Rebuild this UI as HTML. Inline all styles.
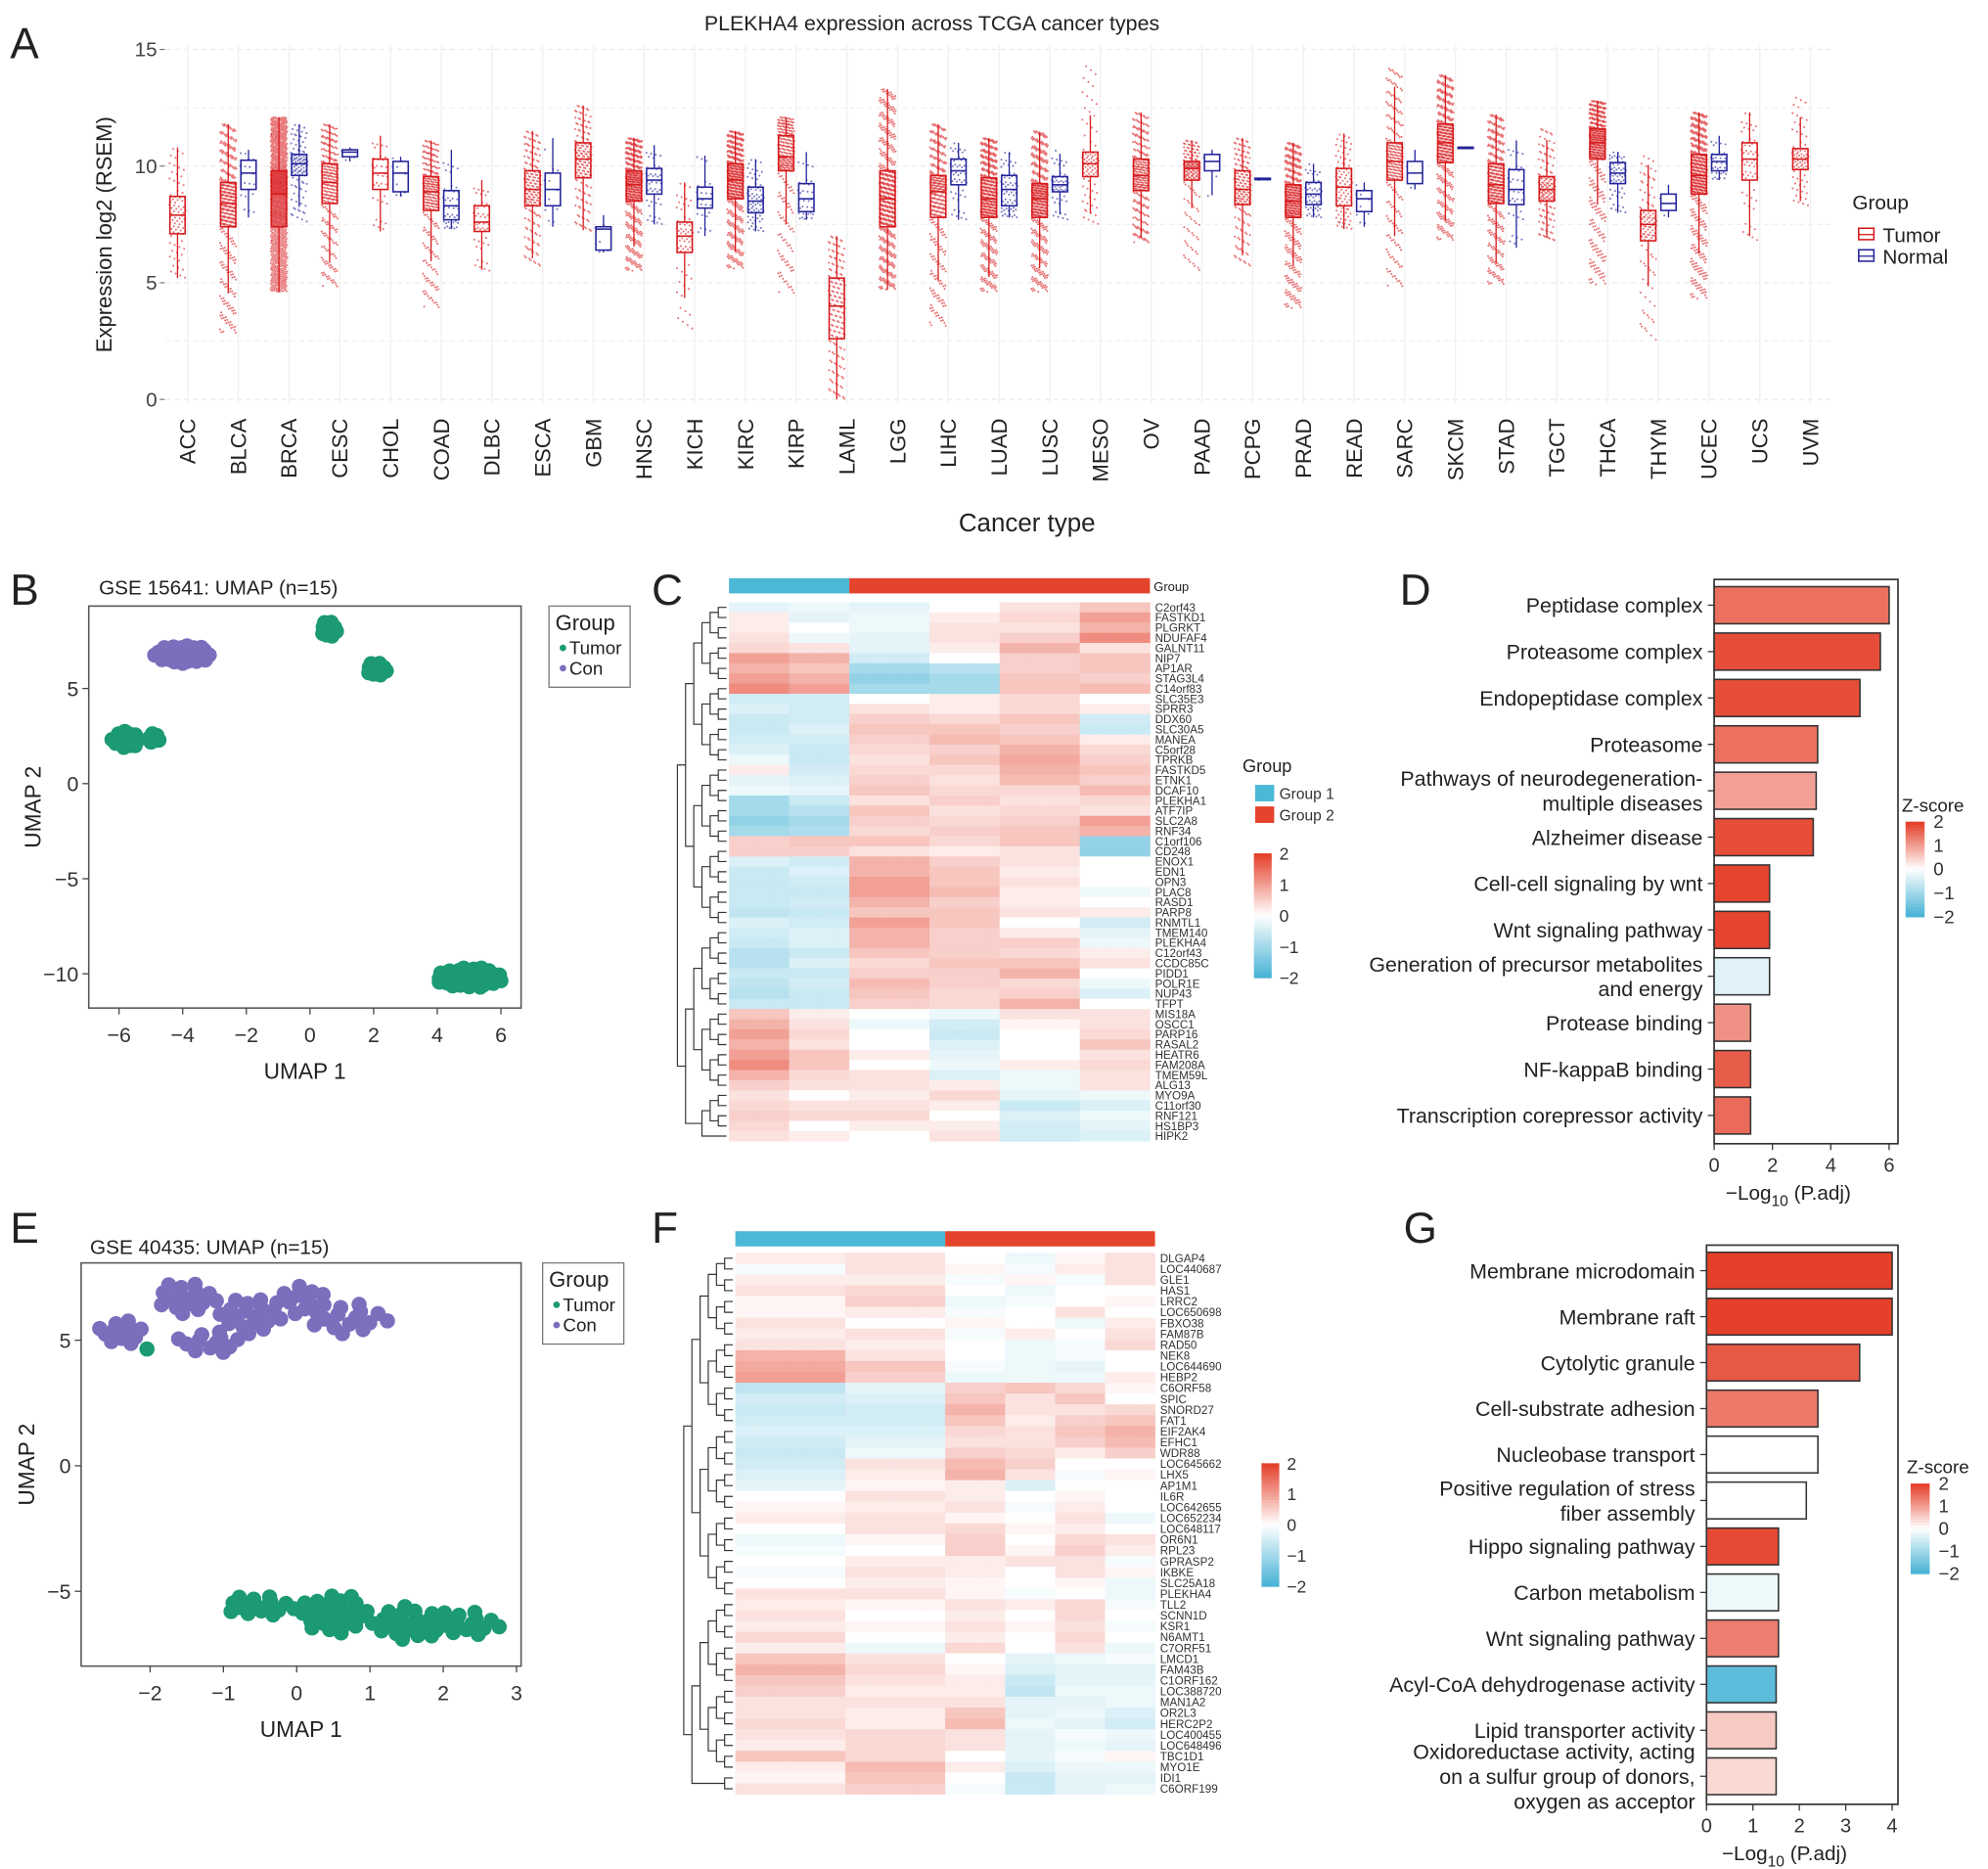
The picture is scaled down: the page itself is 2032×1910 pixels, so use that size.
<!DOCTYPE html>
<html><head><meta charset="utf-8"><title>PLEKHA4 figure</title>
<style>
html,body{margin:0;padding:0;background:#fff;}
svg{display:block;font-family:"Liberation Sans",Arial,sans-serif;}
</style></head>
<body>
<svg id="fig" xmlns="http://www.w3.org/2000/svg" width="2032" height="1910" viewBox="0 0 1568 1474" preserveAspectRatio="none">
<rect x="0" y="0" width="1568" height="1474" fill="#fff"/>
</svg>
<script>
// ===== Panel A data =====
const cancerTypes = ["ACC","BLCA","BRCA","CESC","CHOL","COAD","DLBC","ESCA","GBM","HNSC","KICH","KIRC","KIRP","LAML","LGG","LIHC","LUAD","LUSC","MESO","OV","PAAD","PCPG","PRAD","READ","SARC","SKCM","STAD","TGCT","THCA","THYM","UCEC","UCS","UVM"];
// [min, q1, median, q3, max]
const tumorStats = [
[5.2,7.1,7.9,8.7,10.8],[2.8,7.4,8.4,9.3,11.8],[4.6,7.4,8.8,9.8,12.1],[4.8,8.4,9.3,10.1,11.8],[7.2,9.0,9.7,10.3,11.3],
[3.9,8.1,8.9,9.55,11.1],[5.5,7.2,7.6,8.3,9.4],[5.7,8.3,9.0,9.8,11.5],[7.2,9.5,10.3,11.0,12.6],[5.5,8.5,9.2,9.8,11.2],
[3.0,6.3,7.0,7.6,9.3],[5.6,8.6,9.4,10.1,11.5],[4.5,9.8,10.4,11.3,12.1],[0.0,2.6,4.0,5.2,7.0],[4.7,7.4,8.6,9.8,13.3],
[3.1,7.8,8.9,9.6,11.8],[4.6,7.8,8.6,9.5,11.2],[4.6,7.8,8.6,9.25,11.5],[7.5,9.55,10.1,10.6,14.4],[6.7,8.95,9.6,10.3,12.3],
[5.5,9.4,9.9,10.2,11.1],[5.7,8.35,9.0,9.8,11.2],[3.9,7.8,8.5,9.2,11.0],[7.3,8.3,9.1,9.9,11.4],[4.8,9.4,10.2,11.0,14.2],
[6.8,10.15,11.0,11.8,13.9],[4.9,8.4,9.2,10.1,12.2],[6.8,8.5,9.0,9.55,11.6],[4.9,10.3,11.0,11.6,12.8],[2.5,6.8,7.5,8.1,10.5],
[4.3,8.8,9.6,10.5,12.3],[6.8,9.4,10.3,11.0,12.3],[8.3,9.85,10.3,10.75,13.0]];
const normalStats = [
null,[7.8,9.0,9.7,10.25,10.7],[7.6,9.6,10.1,10.5,11.8],[10.2,10.4,10.6,10.7,10.8],[8.7,8.9,9.7,10.2,10.4],
[7.3,7.7,8.3,8.95,10.7],null,[7.4,8.3,9.0,9.7,11.2],[6.3,6.4,7.3,7.4,7.9],[7.5,8.8,9.4,9.9,10.9],
[7.0,8.2,8.6,9.1,11.0],[7.2,8.0,8.5,9.1,10.3],[7.7,8.05,8.6,9.25,10.6],null,null,
[7.7,9.2,9.8,10.3,11.0],[7.8,8.3,9.0,9.6,10.6],[7.7,8.9,9.2,9.55,10.7],null,null,
[8.3,9.8,10.2,10.5,10.7],[9.4,9.42,9.45,9.48,9.5],[7.8,8.35,8.8,9.3,10.1],[7.4,8.05,8.6,8.95,9.3],[9.0,9.25,9.7,10.2,10.7],
[10.78,10.79,10.8,10.81,10.82],[6.5,8.35,9.0,9.85,11.1],null,[8.0,9.25,9.7,10.15,10.6],[7.8,8.1,8.4,8.8,9.2],
[9.4,9.8,10.2,10.5,11.3],null,null];
const tumorN = [79,408,1100,306,36,290,48,185,166,522,66,534,291,173,530,373,517,501,87,307,179,184,498,95,263,472,415,156,509,120,546,57,80];
const normalN = [0,19,112,3,9,41,0,11,5,44,25,72,32,0,0,50,59,51,0,0,4,3,52,10,2,1,35,0,59,2,35,0,0];
const yTicksA = [0,5,10,15];

// ===== Panel B / E UMAP data: [cx, cy, sx, sy, n, group] =====
const umapBClusters = [[-4.0,6.8,0.9,0.5,40,"Con"],[0.6,8.1,0.25,0.45,15,"Tumor"],[2.1,6.0,0.32,0.38,15,"Tumor"],[-5.8,2.3,0.45,0.45,20,"Tumor"],[-4.9,2.4,0.22,0.25,8,"Tumor"],[5.0,-10.2,1.05,0.55,48,"Tumor"]];
const umapEClusters = [[-2.4,5.3,0.35,0.5,12,"Con"],[-1.5,6.7,0.45,0.65,16,"Con"],[-1.2,4.9,0.5,0.45,12,"Con"],[-0.6,6.0,0.45,0.8,18,"Con"],[0.1,6.6,0.3,0.7,10,"Con"],[0.7,5.9,0.6,0.65,16,"Con"],
[-0.5,-5.6,0.5,0.45,15,"Tumor"],[0.5,-5.9,0.5,0.8,25,"Tumor"],[1.5,-6.3,0.5,0.7,20,"Tumor"],[2.3,-6.3,0.5,0.55,15,"Tumor"],[-2.05,4.65,0.01,0.01,1,"Tumor"]];
const umapBXTicks = [-6,-4,-2,0,2,4,6], umapBYTicks = [-10,-5,0,5];
const umapEXTicks = [-2,-1,0,1,2,3], umapEYTicks = [-5,0,5];

// ===== Panel C heatmap data =====
const heatCGenes = ["C2orf43","FASTKD1","PLGRKT","NDUFAF4","GALNT11","NIP7","AP1AR","STAG3L4","C14orf83","SLC35E3","SPRR3","DDX60","SLC30A5","MANEA","C5orf28","TPRKB","FASTKD5","ETNK1","DCAF10","PLEKHA1","ATF7IP","SLC2A8","RNF34","C1orf106","CD248","ENOX1","EDN1","OPN3","PLAC8","RASD1","PARP8","RNMTL1","TMEM140","PLEKHA4","C12orf43","CCDC85C","PIDD1","POLR1E","NUP43","TFPT","MIS18A","OSCC1","PARP16","RASAL2","HEATR6","FAM208A","TMEM59L","ALG13","MYO9A","C11orf30","RNF121","HS1BP3","HIPK2"];
const heatCValues = [
[-0.3,-0.2,-0.3,0.0,0.3,0.6],[0.2,-0.3,-0.2,0.2,0.4,1.0],[0.2,0,-0.2,0.3,0.3,0.8],[0.3,-0.2,-0.3,0.3,0.5,1.2],[0.4,0.3,-0.3,0.2,0.8,0.3],
[1.0,0.8,-0.5,0.0,0.5,0.6],[0.8,0.6,-1.0,-0.8,0.5,0.6],[1.0,0.8,-1.2,-1.0,0.6,0.5],[1.2,1.0,-1.0,-1.0,0.6,0.7],[-0.5,-0.5,0.0,0.2,0.4,0.0],
[-0.4,-0.5,0.3,0.2,0.4,0.2],[-0.6,-0.5,0.5,0.4,0.6,-0.5],[-0.6,-0.4,0.6,0.6,0.5,-0.6],[-0.5,-0.5,0.5,0.7,0.6,0.2],[-0.4,-0.6,0.4,0.5,0.8,0.4],
[-0.2,-0.6,0.3,0.6,0.9,0.5],[0.2,-0.5,0.4,0.4,0.8,0.6],[-0.3,-0.4,0.5,0.3,0.7,0.5],[-0.2,-0.3,0.6,0.4,0.4,0.7],[-1.0,-0.6,0.3,0.5,0.3,0.4],
[-1.0,-0.8,0.6,0.3,0.4,0.3],[-1.2,-1.0,0.5,0.4,0.5,1.0],[-1.0,-0.9,0.4,0.5,0.6,0.8],[0.5,0.6,0.6,0.4,0.6,-1.2],[0.5,0.5,0.3,0.2,0.3,-1.2],
[-0.4,-0.5,0.8,0.5,0.3,0.0],[-0.6,-0.4,0.8,0.6,0.2,0.0],[-0.6,-0.5,1.0,0.6,0.3,0.0],[-0.6,-0.6,1.0,0.7,0.2,-0.2],[-0.6,-0.5,0.8,0.5,0.2,0.0],
[-0.7,-0.6,0.6,0.6,0.3,0.2],[-0.4,-0.5,1.0,0.6,0.0,-0.5],[-0.5,-0.4,0.8,0.5,0.2,-0.3],[-0.6,-0.4,0.8,0.5,0.5,-0.2],[-0.8,-0.6,0.6,0.5,0.4,0.2],
[-0.8,-0.4,0.4,0.6,0.6,0.3],[-0.6,-0.6,0.5,0.5,0.8,0.0],[-0.7,-0.5,0.7,0.5,0.4,-0.2],[-0.8,-0.6,0.6,0.4,0.5,-0.4],[-0.6,-0.6,0.5,0.4,0.8,0.0],
[0.6,0.2,0.0,-0.2,0.3,0.3],[0.8,0.3,-0.2,-0.5,0.1,0.3],[1.0,0.4,0.0,-0.6,0.0,0.4],[0.8,0.3,0.0,-0.4,0.0,0.6],[1.0,0.6,0.2,-0.3,0.0,0.3],
[1.2,0.6,0.0,-0.2,0.2,0.4],[0.8,0.4,0.3,-0.4,-0.2,0.3],[0.5,0.3,0.3,0.2,-0.2,0.3],[0.3,0.0,0.2,0.4,-0.3,-0.2],[0.4,0.3,0.3,0.2,-0.6,-0.4],
[0.5,0.4,0.4,0.0,-0.4,-0.2],[0.4,0.0,0.2,0.2,-0.5,-0.3],[0.3,0.2,0.0,0.3,-0.5,-0.4]];

// ===== Panel F heatmap data =====
const heatFGenes = ["DLGAP4","LOC440687","GLE1","HAS1","LRRC2","LOC650698","FBXO38","FAM87B","RAD50","NEK8","LOC644690","HEBP2","C6ORF58","SPIC","SNORD27","FAT1","EIF2AK4","EFHC1","WDR88","LOC645662","LHX5","AP1M1","IL6R","LOC642655","LOC652234","LOC648117","OR6N1","RPL23","GPRASP2","IKBKE","SLC25A18","PLEKHA4","TLL2","SCNN1D","KSR1","N6AMT1","C7ORF51","LMCD1","FAM43B","C1ORF162","LOC388720","MAN1A2","OR2L3","HERC2P2","LOC400455","LOC648496","TBC1D1","MYO1E","IDI1","C6ORF199"];
const heatFValues = [
[0.2,0.3,0.0,-0.2,0.1,0.3],[-0.1,0.3,0.1,-0.1,0.2,0.3],[0.2,0.2,-0.1,0.1,-0.1,0.3],[0.3,0.4,0.0,-0.2,0.0,0.0],[0.1,0.5,-0.2,-0.1,0.0,0.1],
[0.1,0.2,-0.1,0.0,0.3,0.0],[0.3,0.0,0.1,0.0,-0.2,0.2],[0.2,0.3,-0.1,0.2,0.0,0.3],[0.3,0.2,0.0,-0.2,-0.1,0.4],[0.8,0.3,0.0,-0.2,-0.1,0.0],
[0.9,0.6,-0.1,-0.2,-0.3,0.0],[1.0,0.5,-0.2,-0.2,-0.2,0.2],[-0.7,-0.3,0.5,0.6,0.4,0.1],[-0.5,-0.4,0.6,0.3,0.6,0.0],[-0.6,-0.5,0.8,0.3,0.3,0.4],
[-0.5,-0.5,0.6,0.2,0.5,0.6],[-0.4,-0.4,0.4,0.3,0.6,0.8],[-0.5,-0.3,0.3,0.3,0.5,0.7],[-0.6,-0.2,0.5,0.4,0.2,0.5],[-0.5,0.3,0.7,0.5,0.0,0.0],
[-0.4,0.2,0.8,0.3,-0.1,0.1],[-0.3,0.1,0.2,-0.4,0.0,0.0],[0.0,0.3,0.2,0.0,0.1,0.0],[0.1,0.2,0.3,-0.1,0.2,0.0],[0.2,0.3,0.1,0.0,0.3,-0.2],
[0.0,0.3,0.4,0.1,0.2,0.0],[-0.2,0.1,0.5,0.0,0.4,0.3],[-0.1,0.0,0.5,0.1,0.5,0.2],[0.0,0.2,0.2,0.3,0.3,-0.1],[-0.1,0.3,0.2,0.0,0.3,0.1],
[0.0,0.2,0.1,0.0,0.1,-0.2],[0.3,0.3,0.1,-0.1,0.0,-0.2],[0.2,0.1,0.3,0.2,0.4,-0.1],[0.3,0.0,0.2,0.0,0.4,0.0],[0.2,0.1,0.3,0.1,0.3,-0.1],
[0.4,0.0,0.2,0.0,0.4,0.0],[0.2,-0.2,0.4,0.0,0.3,-0.2],[0.6,0.3,0.0,-0.3,-0.2,-0.1],[0.8,0.4,0.1,-0.4,-0.3,-0.3],[0.6,0.3,0.2,-0.6,-0.3,-0.3],
[0.5,0.2,0.2,-0.7,-0.2,-0.2],[0.3,0.3,0.3,-0.3,-0.3,-0.2],[0.3,0.2,0.6,-0.3,-0.2,-0.4],[0.4,0.2,0.7,-0.2,-0.3,-0.5],[0.3,0.4,0.3,-0.3,-0.1,-0.2],
[0.2,0.4,0.3,-0.3,-0.2,-0.3],[0.6,0.4,0.0,-0.3,-0.1,0.1],[0.2,0.7,0.2,-0.4,-0.2,-0.2],[0.1,0.6,0.0,-0.6,-0.3,-0.3],[0.3,0.5,-0.1,-0.6,-0.3,-0.2]];
const heatScaleTicks = [2,1,0,-1,-2];

// ===== Panel D / G enrichment data =====
const termsD = [["Peptidase complex"],["Proteasome complex"],["Endopeptidase complex"],["Proteasome"],["Pathways of neurodegeneration-","multiple diseases"],["Alzheimer disease"],["Cell-cell signaling by wnt"],["Wnt signaling pathway"],["Generation of precursor metabolites","and energy"],["Protease binding"],["NF-kappaB binding"],["Transcription corepressor activity"]];
const valuesD = [6.0,5.7,5.0,3.55,3.5,3.4,1.9,1.9,1.9,1.25,1.25,1.25];
const zD = [1.5,1.85,1.85,1.5,1.0,1.85,1.95,1.95,-0.35,1.15,1.7,1.55];
const xTicksD = [0,2,4,6];
const termsG = [["Membrane microdomain"],["Membrane raft"],["Cytolytic granule"],["Cell-substrate adhesion"],["Nucleobase transport"],["Positive regulation of stress","fiber assembly"],["Hippo signaling pathway"],["Carbon metabolism"],["Wnt signaling pathway"],["Acyl-CoA dehydrogenase activity"],["Lipid transporter activity"],["Oxidoreductase activity, acting","on a sulfur group of donors,","oxygen as acceptor"]];
const valuesG = [4.0,4.0,3.3,2.4,2.4,2.15,1.55,1.55,1.55,1.5,1.5,1.5];
const zG = [2.0,2.0,1.75,1.4,0.0,0.0,1.9,-0.2,1.35,-1.8,0.55,0.4];
const xTicksG = [0,1,2,3,4];
const zTicks = [2,1,0,-1,-2];

// ===== helpers =====
const NS = "http://www.w3.org/2000/svg";
const svg = document.getElementById("fig");
function mk(tag, attrs, parent){
  const e = document.createElementNS(NS, tag);
  for (const k in attrs) e.setAttribute(k, attrs[k]);
  (parent || svg).appendChild(e);
  return e;
}
function txt(s, x, y, size, anchor, parent, extra){
  const t = mk("text", Object.assign({x:x, y:y, "font-size":size, "text-anchor":anchor||"start", fill:"#222"}, extra||{}), parent);
  t.textContent = s;
  return t;
}
function grp(parent){ return mk("g", {}, parent); }
function zColor(z){
  const c0=[75,180,214], c1=[255,255,255], c2=[228,64,42];
  let a,b,t;
  z=Math.max(-2,Math.min(2,z));
  if(z<0){a=c1;b=c0;t=-z/2;}else{a=c1;b=c2;t=z/2;}
  const r=a.map((v,i)=>Math.round(v+(b[i]-v)*t));
  return "rgb("+r.join(",")+")";
}
const R2A = 0.7548776662, R2B = 0.5698402910;

// ===== Panel letters =====
[["A",8,46],["B",8,477],["C",514,477],["D",1104,477],["E",8,980],["F",514,980],["G",1107,980]].forEach(p=>{
  const t = txt(p[0], p[1], p[2], 34, "start");
  
  
});

// ===== Panel A =====
(function(){
  const g = grp();
  
  
  const y = v => 315 - v*18.4;
  const x = i => 148 + i*40;
  const L=131, R=1445;
  const title = txt("PLEKHA4 expression across TCGA cancer types", 735, 24, 16.5, "middle", g);
  
  
  for (let v=0; v<=15; v+=2.5){
    const ln = mk("line",{x1:L,x2:R,y1:y(v),y2:y(v),stroke:"#ececec","stroke-width":v%5===0?1:0.7,"stroke-dasharray":"4,3"},g);
    
    
  }
  cancerTypes.forEach((c,i)=>{
    const ln = mk("line",{x1:x(i),x2:x(i),y1:36,y2:318,stroke:"#f0f0f0","stroke-width":1},g);
    
    
  });
  yTicksA.forEach(v=>{
    const t = txt(String(v), 124, y(v)+5.5, 16, "end", g, {fill:"#444"});
    
    
    mk("line",{x1:126,x2:130,y1:y(v),y2:y(v),stroke:"#666","stroke-width":0.8},g);
  });
  const yl = txt("Expression log2 (RSEM)", 0, 0, 17, "middle", g, {transform:"translate(88,185) rotate(-90)"});
  
  
  const xl = txt("Cancer type", 810, 419, 20, "middle", g);
  
  
  function drawBox(st, cx, n, color, name){
    const bg = grp(g);
    
    
    const q = st;
    const fr=[0,0.25,0.5,0.75,1];
    for(let k=0;k<n;k++){
      const p = (0.5 + (k+1)*R2B) % 1;
      let seg=0; while(seg<3 && p>fr[seg+1]) seg++;
      const t=(p-fr[seg])/(fr[seg+1]-fr[seg]);
      const v=q[seg]+(q[seg+1]-q[seg])*t;
      const jx=(((0.5 + (k+1)*R2A) % 1)-0.5)*13;
      mk("circle",{cx:(cx+jx).toFixed(2),cy:y(v).toFixed(2),r:0.8,fill:color,"fill-opacity":0.6},bg);
    }
    const iqr=q[3]-q[1];
    const wlo=Math.max(q[0],q[1]-1.5*iqr), whi=Math.min(q[4],q[3]+1.5*iqr);
    mk("line",{x1:cx,x2:cx,y1:y(whi),y2:y(q[3]),stroke:color,"stroke-width":1},bg);
    mk("line",{x1:cx,x2:cx,y1:y(q[1]),y2:y(wlo),stroke:color,"stroke-width":1},bg);
    mk("rect",{x:cx-6,y:y(q[3]),width:12,height:Math.max(1,y(q[1])-y(q[3])),fill:"none",stroke:color,"stroke-width":1.2},bg);
    mk("line",{x1:cx-6,x2:cx+6,y1:y(q[2]),y2:y(q[2]),stroke:color,"stroke-width":1.2},bg);
  }
  cancerTypes.forEach((c,i)=>{
    drawBox(tumorStats[i], x(i)-8, tumorN[i], "#d7191c", "box-tumor-"+c.toLowerCase());
    if(normalStats[i]) drawBox(normalStats[i], x(i)+8, normalN[i], "#23239a", "box-normal-"+c.toLowerCase());
    const t = txt(c, 0, 0, 17, "end", g, {transform:"translate("+(x(i)+6)+",330) rotate(-90)"});
    
    
  });
  const lg = grp(g);
  
  
  txt("Group", 1461, 165, 16, "start", lg);
  [["Tumor","#d7191c",185],["Normal","#23239a",202]].forEach(e=>{
    const en = grp(lg);
    
    
    mk("rect",{x:1466,y:e[2]-5,width:12,height:9,fill:"none",stroke:e[1],"stroke-width":1.2},en);
    mk("line",{x1:1466,x2:1478,y1:e[2],y2:e[2],stroke:e[1],"stroke-width":1},en);
    txt(e[0], 1485, e[2]+6, 16, "start", en);
  });
})();

// ===== UMAP panels =====
function umap(cfg){
  const g = grp();
  
  
  const x = v => cfg.x0 + (v - cfg.xv0)*cfg.xs;
  const y = v => cfg.y0 - (v - cfg.yv0)*cfg.ys;
  const t = txt(cfg.title, cfg.tx, cfg.ty, 16, "start", g);
  
  
  mk("rect",{x:cfg.L,y:cfg.T,width:cfg.R-cfg.L,height:cfg.B-cfg.T,fill:"#fff",stroke:"#555","stroke-width":1.2},g);
  const pts = grp(g);
  
  
  cfg.clusters.forEach(c=>{
    const col = c[5]==="Con" ? "#7a6fbc" : "#1b9a74";
    for(let k=0;k<c[4];k++){
      const rr = Math.sqrt((k+0.5)/c[4]);
      const a = k*2.39996;
      const px = c[0] + Math.cos(a)*rr*c[2], py = c[1] + Math.sin(a)*rr*c[3];
      mk("circle",{cx:x(px).toFixed(2),cy:y(py).toFixed(2),r:6,fill:col},pts);
    }
  });
  cfg.xt.forEach(v=>{
    mk("line",{x1:x(v),x2:x(v),y1:cfg.B,y2:cfg.B+5,stroke:"#444"},g);
    const tl = txt(String(v).replace("-","\u2212"), x(v), cfg.B+27, 16.5, "middle", g, {fill:"#333"});
    
    
  });
  cfg.yt.forEach(v=>{
    mk("line",{x1:cfg.L-5,x2:cfg.L,y1:y(v),y2:y(v),stroke:"#444"},g);
    const tl = txt(String(v).replace("-","\u2212"), cfg.L-8, y(v)+6, 16.5, "end", g, {fill:"#333"});
    
    
  });
  const xa = txt("UMAP 1", (cfg.L+cfg.R)/2, cfg.B+56, 17.5, "middle", g);
  
  
  const ya = txt("UMAP 2", 0, 0, 17.5, "middle", g, {transform:"translate("+cfg.yax+","+((cfg.T+cfg.B)/2)+") rotate(-90)"});
  
  
  const lg = grp(g);
  
  
  mk("rect",{x:cfg.lx,y:cfg.T,width:64,height:64,fill:"#fff",stroke:"#777","stroke-width":1},lg);
  txt("Group", cfg.lx+5, cfg.T+19, 17, "start", lg);
  mk("circle",{cx:cfg.lx+11,cy:cfg.T+33,r:2.6,fill:"#1b9a74"},lg);
  txt("Tumor", cfg.lx+16, cfg.T+38, 14.5, "start", lg);
  mk("circle",{cx:cfg.lx+11,cy:cfg.T+49,r:2.6,fill:"#7a6fbc"},lg);
  txt("Con", cfg.lx+16, cfg.T+54, 14.5, "start", lg);
}
umap({name:"panel-b-umap",title:"GSE 15641: UMAP (n=15)",tx:78,ty:469,L:70,R:411,T:478,B:795,x0:244.5,xv0:0,xs:25.1,y0:618,yv0:0,ys:15,clusters:umapBClusters,xt:umapBXTicks,yt:umapBYTicks,yax:32,lx:433});
umap({name:"panel-e-umap",title:"GSE 40435: UMAP (n=15)",tx:71,ty:989,L:64,R:411,T:996,B:1314,x0:234,xv0:0,xs:57.8,y0:1156,yv0:0,ys:19.8,clusters:umapEClusters,xt:umapEXTicks,yt:umapEYTicks,yax:27,lx:428});

// ===== Heatmaps =====
function heatmap(cfg){
  const g = grp();
  
  
  const nr = cfg.genes.length, nc = 42;
  const cw = (cfg.R-cfg.L)/nc, rh = (cfg.B-cfg.T)/nr;
  const gb = grp(g);
  
  
  mk("rect",{x:cfg.L,y:cfg.gT,width:cw*cfg.g1,height:12,fill:"#4bb8d6"},gb);
  mk("rect",{x:cfg.L+cw*cfg.g1,y:cfg.gT,width:cw*(nc-cfg.g1),height:12,fill:"#e4432c"},gb);
  if(cfg.groupLabel) txt("Group", cfg.R+3, cfg.gT+10, 10, "start", gb);
  const cells = grp(g);
  
  
  cfg.values.forEach((row,r)=>{
    for(let c=0;c<nc;c++){
      let b;
      if(c<cfg.g1){ b = c < cfg.g1/2 ? 0 : 1; }
      else { const k=(c-cfg.g1)/(nc-cfg.g1); b = 2+Math.min(3,Math.floor(k*4)); }
      mk("rect",{x:(cfg.L+c*cw).toFixed(2),y:(cfg.T+r*rh).toFixed(2),width:(cw+0.3).toFixed(2),height:(rh+0.3).toFixed(2),fill:zColor(row[b])},cells);
    }
    const t = txt(cfg.genes[r], cfg.R+4, cfg.T+(r+0.5)*rh+3.2, 9, "start", g, {fill:"#333"});
    
    
  });
  const dg = grp(g);
  
  
  let nodes = cfg.genes.map((_,r)=>({y:cfg.T+(r+0.5)*rh, x:cfg.L-2}));
  let level=1; const W=cfg.L-cfg.dL;
  while(nodes.length>1){
    const next=[]; const nx = cfg.L-2 - W*Math.min(1,level/6.2);
    for(let i=0;i<nodes.length;i+=2){
      if(i+1<nodes.length){
        const a=nodes[i], b=nodes[i+1];
        mk("path",{d:"M"+a.x+","+a.y+"H"+nx+"V"+b.y+"H"+b.x,fill:"none",stroke:"#333","stroke-width":0.9},dg);
        next.push({x:nx,y:(a.y+b.y)/2});
      } else next.push(nodes[i]);
    }
    nodes=next; level++;
  }
  const lg = grp(g);
  
  
  const st = cfg.sT, sh = cfg.sB-cfg.sT;
  for(let k=0;k<40;k++){
    const z = 2 - 4*k/39;
    mk("rect",{x:cfg.sx,y:st+k*sh/40,width:14,height:sh/40+0.5,fill:zColor(z)},lg);
  }
  heatScaleTicks.forEach((v,i)=>{
    txt(String(v).replace("-","\u2212"), cfg.sx+20, st+ i*sh/4 + 5, 13.5, "start", lg, {fill:"#333"});
  });
}
heatmap({name:"panel-c-heatmap",genes:heatCGenes,values:heatCValues,L:575,R:907,T:475,B:900,gT:456,g1:12,groupLabel:true,dL:535,sx:989,sT:673,sB:771});
heatmap({name:"panel-f-heatmap",genes:heatFGenes,values:heatFValues,L:580,R:911,T:988,B:1415,gT:971,g1:21,groupLabel:false,dL:540,sx:995,sT:1154,sB:1251});
(function(){
  const lg = grp();
  
  
  txt("Group", 980, 609, 14, "start", lg);
  mk("rect",{x:990,y:619,width:15,height:13,fill:"#4bb8d6"},lg);
  txt("Group 1", 1009, 630, 12, "start", lg, {fill:"#333"});
  mk("rect",{x:990,y:636,width:15,height:13,fill:"#e4432c"},lg);
  txt("Group 2", 1009, 647, 12, "start", lg, {fill:"#333"});
})();

// ===== Enrichment bar charts =====
function enrich(cfg){
  const g = grp();
  
  
  const x = v => cfg.L + v*cfg.xs;
  const n = cfg.terms.length;
  const step = (cfg.B - cfg.T - 6)/n;
  const yc = i => cfg.T + 2 + (i+0.5)*step;
  mk("rect",{x:cfg.L,y:cfg.T,width:cfg.R-cfg.L,height:cfg.B-cfg.T,fill:"#fff",stroke:"#333","stroke-width":1.3},g);
  cfg.values.forEach((v,i)=>{
    const b = mk("rect",{x:x(0),y:yc(i)-step*0.4,width:x(v)-x(0),height:step*0.8,fill:zColor(cfg.z[i]),stroke:"#333","stroke-width":1.2},g);
    
    
    mk("line",{x1:cfg.L-5,x2:cfg.L,y1:yc(i),y2:yc(i),stroke:"#333"},g);
    const lines = cfg.terms[i];
    const lh = 19.5;
    lines.forEach((s,k)=>{
      const ty = yc(i) + 6 + (k-(lines.length-1)/2)*lh;
      const t = txt(s, cfg.L-9, ty, 16.5, "end", g, {fill:"#222"});
      
      
    });
  });
  cfg.ticks.forEach(v=>{
    mk("line",{x1:x(v),x2:x(v),y1:cfg.B,y2:cfg.B+5,stroke:"#333"},g);
    const t = txt(String(v), x(v), cfg.B+22, 15.5, "middle", g, {fill:"#333"});
    
    
  });
  const xt = mk("text",{x:(cfg.L+cfg.R)/2-14,y:cfg.B+44,"font-size":16,"text-anchor":"middle",fill:"#222"},g);
  
  
  const t1 = mk("tspan",{},xt); t1.textContent="\u2212Log";
  const t2 = mk("tspan",{"font-size":12,dy:5},xt); t2.textContent="10";
  const t3 = mk("tspan",{dy:-5},xt); t3.textContent=" (P.adj)";
  const lg = grp(g);
  
  
  txt("Z-score", cfg.lx-3, cfg.lT-8, 14.5, "start", lg);
  const sh = cfg.lB - cfg.lT;
  for(let k=0;k<30;k++){
    mk("rect",{x:cfg.lx,y:cfg.lT+k*sh/30,width:15,height:sh/30+0.5,fill:zColor(2-4*k/29)},lg);
  }
  zTicks.forEach((v,i)=>txt(String(v).replace("-","\u2212"), cfg.lx+22, cfg.lT+i*sh/4+5, 14.5, "start", lg, {fill:"#333"}));
}
enrich({name:"panel-d-enrichment",terms:termsD,values:valuesD,z:zD,ticks:xTicksD,L:1352,R:1497,T:457,B:902,xs:23,lx:1503,lT:648,lB:723});
enrich({name:"panel-g-enrichment",terms:termsG,values:valuesG,z:zG,ticks:xTicksG,L:1346,R:1497,T:982,B:1423,xs:36.6,lx:1507,lT:1170,lB:1241});
</script>
</body></html>
